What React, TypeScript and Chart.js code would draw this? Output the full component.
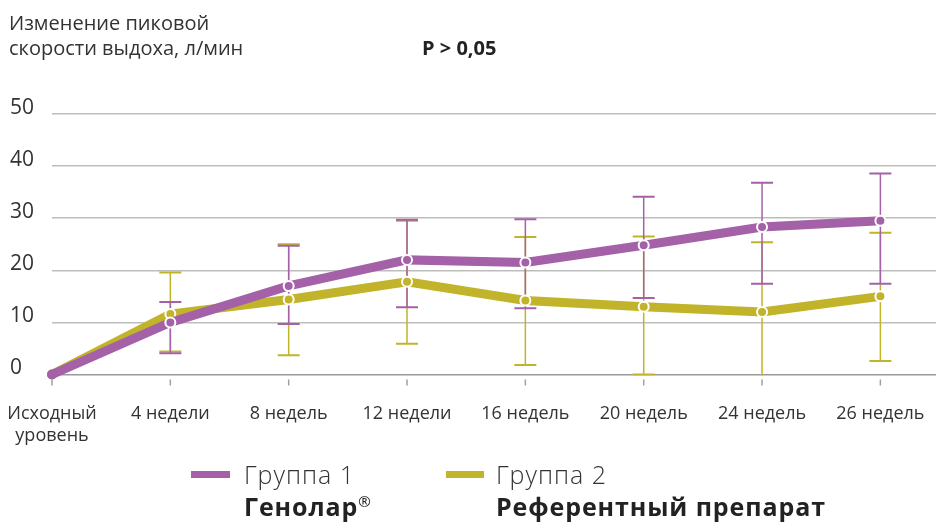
import React, { useEffect, useRef } from 'react';
import { Chart, registerables } from 'chart.js';

Chart.register(...registerables);

const categories: (string | string[])[] = [
  ['Исходный', 'уровень'],
  '4 недели',
  '8 недель',
  '12 недели',
  '16 недель',
  '20 недель',
  '24 недель',
  '26 недель',
];
const group1Values = [0, 10, 17, 22, 21.5, 24.8, 28.3, 29.5];
const group1Low = [0, 4.1, 9.7, 12.9, 12.7, 14.7, 17.4, 17.4];
const group1High = [0, 13.9, 24.7, 29.7, 29.8, 34.1, 36.8, 38.6];
const group2Values = [0, 11.6, 14.4, 17.8, 14.2, 13.0, 12.0, 15.0];
const group2Low = [0, 4.4, 3.7, 5.9, 1.8, 0, -1.5, 2.6];
const group2High = [0, 19.6, 25.0, 29.5, 26.4, 26.5, 25.4, 27.2];
const yTicks = [0, 10, 20, 30, 40, 50];

const titleLines = ['Изменение пиковой', 'скорости выдоха, л/мин'];
const pValueText = 'P > 0,05';
const group1Label = 'Группа 1';
const group1Name = 'Генолар';
const group2Label = 'Группа 2';
const group2Name = 'Референтный препарат';

const PURPLE = '#a461a8';
const YELLOW = '#c2b42a';
const FONT = '"Open Sans", Roboto, sans-serif';

const errorBarPlugin = {
  id: 'errorBars',
  beforeDatasetsDraw(chart: any) {
    const { ctx, chartArea, scales } = chart;
    const xs = scales.x;
    const ys = scales.y;
    const sets = [
      { low: group2Low, high: group2High, color: YELLOW },
      { low: group1Low, high: group1High, color: PURPLE },
    ];
    ctx.save();
    ctx.beginPath();
    ctx.rect(chartArea.left - 20, chartArea.top - 20, chartArea.right - chartArea.left + 40, chartArea.bottom - chartArea.top + 21);
    ctx.clip();
    for (const s of sets) {
      ctx.strokeStyle = s.color;
      for (let i = 1; i < categories.length; i++) {
        const x = xs.getPixelForValue(i);
        const y1 = ys.getPixelForValue(s.low[i]);
        const y2 = ys.getPixelForValue(s.high[i]);
        ctx.lineWidth = 1.5;
        ctx.beginPath();
        ctx.moveTo(x, y1);
        ctx.lineTo(x, y2);
        ctx.stroke();
        ctx.lineWidth = 2;
        ctx.beginPath();
        ctx.moveTo(x - 11, y1);
        ctx.lineTo(x + 11, y1);
        ctx.moveTo(x - 11, y2);
        ctx.lineTo(x + 11, y2);
        ctx.stroke();
      }
    }
    ctx.restore();
    ctx.save();
    ctx.strokeStyle = '#a0a0a0';
    ctx.lineWidth = 1.5;
    for (let i = 0; i < categories.length; i++) {
      const x = xs.getPixelForValue(i);
      ctx.beginPath();
      ctx.moveTo(x, chartArea.bottom + 5);
      ctx.lineTo(x, chartArea.bottom + 11);
      ctx.stroke();
    }
    ctx.restore();
  },
};

export default function App() {
  const canvasRef = useRef<HTMLCanvasElement>(null);

  useEffect(() => {
    if (!canvasRef.current) return;
    const pointBorders = categories.map((_, i) => (i === 0 ? 0 : 2));
    const chart = new Chart(canvasRef.current, {
      type: 'line',
      data: {
        datasets: [
          {
            label: group1Label,
            data: group1Values.map((v, i) => ({ x: i, y: v })),
            borderColor: PURPLE,
            backgroundColor: PURPLE,
            borderWidth: 9,
            pointRadius: 5,
            pointBorderWidth: pointBorders,
            pointBorderColor: '#ffffff',
            pointBackgroundColor: PURPLE,
            tension: 0,
            clip: false,
          },
          {
            label: group2Label,
            data: group2Values.map((v, i) => ({ x: i, y: v })),
            borderColor: YELLOW,
            backgroundColor: YELLOW,
            borderWidth: 9,
            pointRadius: 5,
            pointBorderWidth: pointBorders,
            pointBorderColor: '#ffffff',
            pointBackgroundColor: YELLOW,
            tension: 0,
            clip: false,
          },
        ],
      },
      options: {
        animation: false,
        responsive: false,
        maintainAspectRatio: false,
        layout: { autoPadding: false, padding: { left: 10, top: 114, right: 0, bottom: 0 } },
        plugins: {
          legend: { display: false },
          tooltip: { enabled: false },
          title: { display: false },
        },
        scales: {
          x: {
            type: 'linear',
            min: 0,
            max: 7.47,
            bounds: 'data',
            grid: { drawOnChartArea: false, drawTicks: false },
            border: { display: false },
            afterFit: (scale: any) => {
              scale.height = 523 - 374.5;
              scale.paddingLeft = 0;
              scale.paddingRight = 0;
            },
            ticks: {
              stepSize: 1,
              autoSkip: false,
              maxRotation: 0,
              includeBounds: false,
              padding: 28,
              color: '#333333',
              font: { family: FONT, size: 18, lineHeight: 1.25 },
              callback: (v: any) => (Number.isInteger(v) && v >= 0 && v < categories.length ? categories[v] : ''),
            },
          },
          y: {
            min: 0,
            max: 50,
            afterFit: (scale: any) => {
              scale.width = 42;
              scale.paddingTop = 0;
              scale.paddingBottom = 0;
            },
            afterBuildTicks: (scale: any) => {
              scale.ticks = yTicks.map((v) => ({ value: v }));
            },
            grid: {
              drawTicks: false,
              lineWidth: 1.5,
              color: (c: any) => (c.tick && c.tick.value === 0 ? '#9a9a9a' : '#bdbdbd'),
            },
            border: { display: false },
            ticks: {
              crossAlign: 'far',
              color: '#333333',
              font: { family: FONT, size: 21, lineHeight: 0.6 },
              callback: (v: any) => [String(v), ''],
            },
          },
        },
      } as any,
      plugins: [errorBarPlugin],
    });
    return () => chart.destroy();
  }, []);

  const textColor = '#333333';
  return (
    <div style={{ position: 'absolute', left: 0, top: 0, width: 936, height: 523, background: '#ffffff', fontFamily: FONT }}>
      <canvas ref={canvasRef} width={936} height={523} style={{ display: 'block', width: 936, height: 523 }} />
      <div style={{ position: 'absolute', left: 9, top: 10, fontSize: 20, lineHeight: '25px', color: textColor }}>
        {titleLines.map((t, i) => (
          <div key={i}>{t}</div>
        ))}
      </div>
      <div style={{ position: 'absolute', left: 422, top: 35, fontSize: 20, lineHeight: '26px', fontWeight: 700, color: '#222' }}>
        {pValueText}
      </div>
      <div style={{ position: 'absolute', left: 191, top: 471, width: 39, height: 7, background: PURPLE }} />
      <div style={{ position: 'absolute', left: 244, top: 458, fontSize: 25, lineHeight: '32px', fontWeight: 300, color: textColor, letterSpacing: '1px' }}>
        {group1Label}
      </div>
      <div style={{ position: 'absolute', left: 244, top: 490, fontSize: 25, lineHeight: '32px', fontWeight: 700, color: '#222', letterSpacing: '0.9px' }}>
        {group1Name}
        <sup style={{ fontSize: '60%', fontWeight: 400, lineHeight: 0 }}>®</sup>
      </div>
      <div style={{ position: 'absolute', left: 446, top: 471, width: 38, height: 7, background: YELLOW }} />
      <div style={{ position: 'absolute', left: 496, top: 458, fontSize: 25, lineHeight: '32px', fontWeight: 300, color: textColor, letterSpacing: '1px' }}>
        {group2Label}
      </div>
      <div style={{ position: 'absolute', left: 496, top: 490, fontSize: 25, lineHeight: '32px', fontWeight: 700, color: '#222', letterSpacing: '0.9px' }}>
        {group2Name}
      </div>
    </div>
  );
}
